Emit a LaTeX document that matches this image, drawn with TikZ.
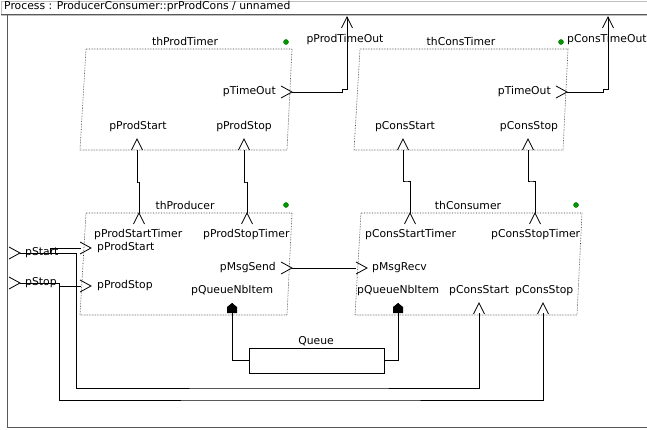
\documentclass[tikz,border=0pt]{standalone}
\usepackage{fontspec}
\setmainfont{DejaVu Sans}

\newcommand{\portin}[1]{\draw[wire] (#1) ++(-11,-6) -- ++(11,6) -- ++(-11,6);}
\newcommand{\portup}[1]{\draw[wire] (#1) ++(-5.5,11) -- ++(5.5,-11) -- ++(5.5,11);}
\newcommand{\portq}[1]{\fill (#1) ++(-5,10) -- ++(0,-6) -- ++(5,-4) -- ++(5,4) -- ++(0,6) -- cycle;}

\tikzset{
  thread/.style={densely dotted, line width=0.6pt, black!80},
  wire/.style={line width=0.8pt},
  lbl/.style={inner sep=0pt, font=\fontsize{10.8}{12}\selectfont},
  icon/.style={circle, fill=green!60!black, draw=green!40!black, inner sep=0pt, minimum size=5pt},
}

\begin{document}
\begin{tikzpicture}[x=1pt, y=-1pt]
  \useasboundingbox (0,0) rectangle (647,430);

  \draw[gray!50] (1,1) rectangle (700,15);
  \draw[gray!70!black, line width=1pt] (1,15) -- (700,15);
  \draw[gray!70!black] (7,15) -- (7,427) -- (700,427);
  \node[lbl, anchor=west] (title) at (4,7) {Process : ProducerConsumer::prProdCons / unnamed};

  \foreach \n/\l/\r/\t/\b in {pt/80/292/49/150, ct/354/568/49/150, pr/80/292/213/315, cs/355/582/213/315} {
    \draw[thread] (\l+6,\t) -- (\r,\t) -- (\r-5,\b) -- (\l,\b) -- cycle;
  }

  \node[lbl] (pt-name) at (185,41) {thProdTimer};
  \node[icon] (pt-icon) at (286,42) {};
  \node[lbl, anchor=east] (pt-timeout-l) at (276,92) {pTimeOut};
  \node[lbl] (pt-start-l) at (138,127) {pProdStart};
  \node[lbl] (pt-stop-l) at (244,127) {pProdStop};

  \node[lbl] (ct-name) at (461,41) {thConsTimer};
  \node[icon] (ct-icon) at (561,42) {};
  \node[lbl, anchor=east] (ct-timeout-l) at (551,92) {pTimeOut};
  \node[lbl] (ct-start-l) at (405,127) {pConsStart};
  \node[lbl] (ct-stop-l) at (529,127) {pConsStop};

  \node[lbl] (pr-name) at (185,205) {thProducer};
  \node[icon] (pr-icon) at (286,205) {};
  \node[lbl, anchor=west] (pr-starttimer-l) at (94,235) {pProdStartTimer};
  \node[lbl, anchor=west] (pr-stoptimer-l) at (203,235) {pProdStopTimer};
  \node[lbl, anchor=west] (pr-start-l) at (97,248) {pProdStart};
  \node[lbl, anchor=west] (pr-stop-l) at (97,286) {pProdStop};
  \node[lbl, anchor=east] (pr-send-l) at (276,268) {pMsgSend};
  \node[lbl, anchor=west] (pr-nb-l) at (191,291) {pQueueNbItem};

  \node[lbl] (cs-name) at (468,205) {thConsumer};
  \node[icon] (cs-icon) at (576,205) {};
  \node[lbl, anchor=west] (cs-starttimer-l) at (365,235) {pConsStartTimer};
  \node[lbl, anchor=west] (cs-stoptimer-l) at (491,235) {pConsStopTimer};
  \node[lbl, anchor=west] (cs-recv-l) at (372,268) {pMsgRecv};
  \node[lbl, anchor=west] (cs-nb-l) at (357,291) {pQueueNbItem};
  \node[lbl, anchor=west] (cs-start-l) at (449,291) {pConsStart};
  \node[lbl, anchor=west] (cs-stop-l) at (515,291) {pConsStop};

  \node[lbl] (ext-ptimeout-l) at (345,40) {pProdTimeOut};
  \node[lbl, anchor=west] (ext-ctimeout-l) at (567,40) {pConsTimeOut};
  \node[lbl, anchor=west] (ext-start-l) at (25,253) {pStart};
  \node[lbl, anchor=west] (ext-stop-l) at (25,283) {pStop};

  \node[draw, wire, minimum width=135pt, minimum height=25pt] (queue) at (316.5,360.5) {};
  \node[lbl] (queue-l) at (316,341) {Queue};

  \coordinate (pt-timeout) at (292,92);
  \coordinate (ct-timeout) at (567,92);
  \coordinate (pt-start) at (137,139);
  \coordinate (pt-stop) at (244,139);
  \coordinate (ct-start) at (403,139);
  \coordinate (ct-stop) at (528,139);
  \coordinate (pr-starttimer) at (139,213);
  \coordinate (pr-stoptimer) at (247,213);
  \coordinate (cs-starttimer) at (410,213);
  \coordinate (cs-stoptimer) at (535,213);
  \coordinate (pr-start) at (91,248);
  \coordinate (pr-stop) at (91,286);
  \coordinate (pr-send) at (292,268);
  \coordinate (cs-recv) at (367,268);
  \coordinate (pr-nb) at (232,303);
  \coordinate (cs-nb) at (398,303);
  \coordinate (cs-start) at (479,303);
  \coordinate (cs-stop) at (543,303);
  \coordinate (ext-ptimeout) at (347,17);
  \coordinate (ext-ctimeout) at (608,17);
  \coordinate (ext-start) at (20,253);
  \coordinate (ext-stop) at (20,283);

  \foreach \p in {pt-timeout, ct-timeout, pr-start, pr-stop, pr-send, cs-recv, ext-start, ext-stop} {
    \portin{\p}
  }
  \foreach \p in {pt-start, pt-stop, ct-start, ct-stop, pr-starttimer, pr-stoptimer, cs-starttimer, cs-stoptimer, cs-start, cs-stop, ext-ptimeout, ext-ctimeout} {
    \portup{\p}
  }
  \portq{pr-nb}
  \portq{cs-nb}

  \draw[wire] (pt-timeout) -- ++(50,0) -- ++(0,-3) -| (ext-ptimeout);
  \draw[wire] (ct-timeout) -- ++(36,0) -- ++(0,-3) -| (ext-ctimeout);
  \draw[wire] ([yshift=-11pt]pt-start) |- (138,182) -| (pr-starttimer);
  \draw[wire] ([yshift=-11pt]pt-stop) |- (246,182) -| (pr-stoptimer);
  \draw[wire] ([yshift=-11pt]ct-start) |- (406,181) -| (cs-starttimer);
  \draw[wire] ([yshift=-11pt]ct-stop) |- (531,181) -| (cs-stoptimer);
  \draw[wire] (pr-send) -- ([xshift=-11pt]cs-recv);
  \draw[wire] (ext-start) -- (76,253) |- (300,388) -| ([yshift=-10pt]cs-start);
  \draw[wire] (50,253) |- ([xshift=-10pt]pr-start);
  \draw[wire] (ext-stop) -- (59,283) |- (300,400) -| ([yshift=-10pt]cs-stop);
  \draw[wire] (59,286) -- ([xshift=-10pt]pr-stop);
  \draw[wire] (pr-nb) |- (queue.west);
  \draw[wire] (queue.east) -| (cs-nb);
\end{tikzpicture}
\end{document}
